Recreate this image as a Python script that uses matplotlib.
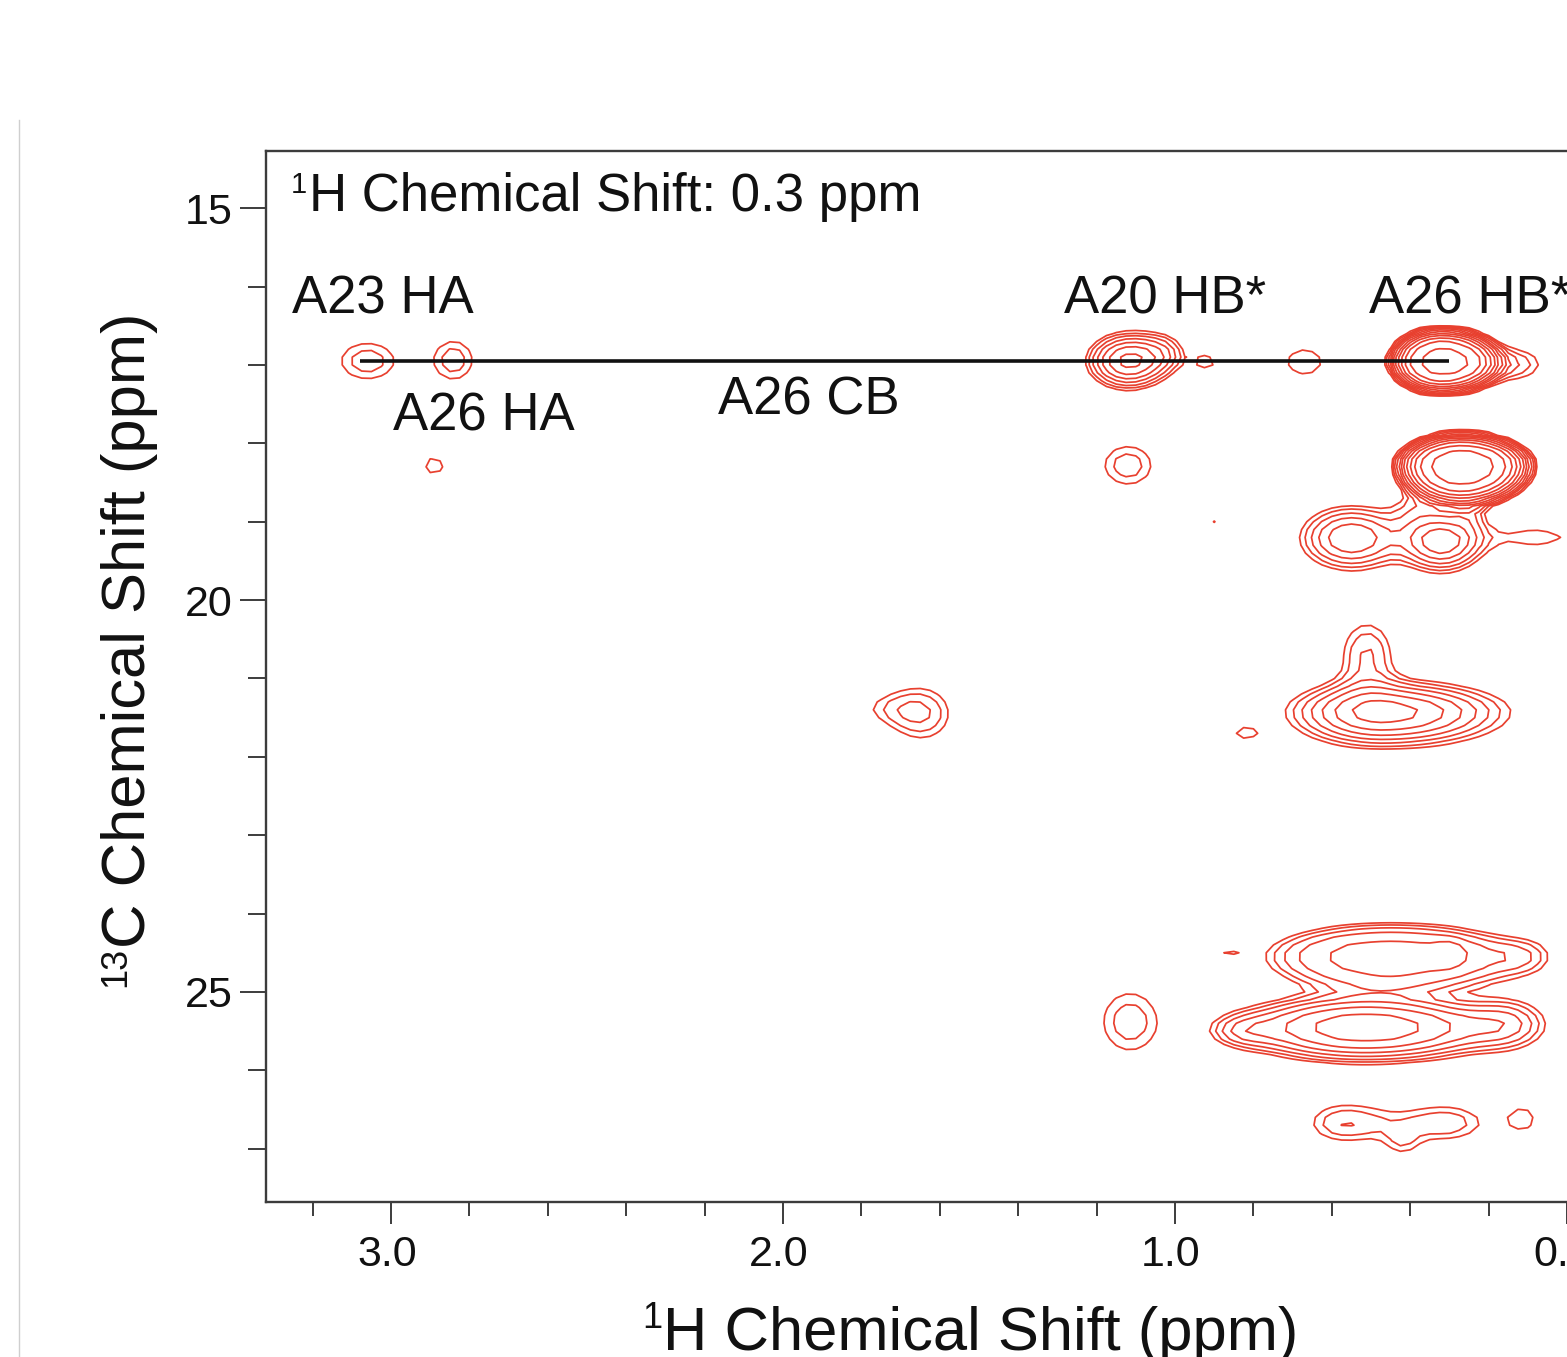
import numpy as np
import matplotlib
matplotlib.use("Agg")
import matplotlib.pyplot as plt
from matplotlib.lines import Line2D
from matplotlib.transforms import ScaledTranslation

plt.rcParams["font.family"] = ["Liberation Sans", "DejaVu Sans"]

# peak list (ppm, relative intensity)
peak_h = [3.06, 2.84, 1.12, 1.026, 0.92, 0.67, 0.32, 0.15, 0.27, 1.12, 2.89, 0.90,
          0.55, 0.32, 0.08, 0.375, 0.247, 0.47, 0.51, 0.82, 1.645, 1.74,
          0.515, 0.45, 0.30, 0.10, 0.15, 0.83, 1.115, 0.86,
          0.566, 0.31, 0.42, 0.11]
peak_c = [16.95, 16.94, 16.95, 16.84, 16.96, 16.96, 16.96, 16.99, 18.28, 18.28, 18.29, 19.00,
          19.21, 19.25, 19.20, 18.85, 18.90, 21.43, 20.70, 21.70, 21.45, 21.38,
          25.45, 24.55, 24.50, 24.55, 25.40, 25.50, 25.38, 24.50,
          26.67, 26.67, 26.95, 26.62]
peak_int = [1.55, 1.55, 5.2, 1.4, 1.2, 1.2, 19.0, 1.8, 20.0, 1.55, 1.2, 1.08,
            3.7, 4.5, 1.2, 1.4, 1.0, 5.5, 1.75, 1.2, 1.7, 0.8,
            5.6, 3.05, 0.75, 1.0, 1.7, 1.3, 1.55, 1.06,
            1.7, 1.62, 0.9, 1.1]
# widths towards high ppm (left) / low ppm (right) in 1H, low ppm (up) / high ppm (down) in 13C
width_left = [0.10, 0.07, 0.084, 0.07, 0.048, 0.10, 0.107, 0.10, 0.133, 0.088, 0.054, 0.014,
              0.115, 0.09, 0.15, 0.07, 0.04, 0.19, 0.078, 0.05, 0.09, 0.12,
              0.28, 0.31, 0.035, 0.08, 0.10, 0.08, 0.10, 0.04,
              0.11, 0.13, 0.05, 0.07]
width_right = [0.10, 0.07, 0.084, 0.05, 0.048, 0.10, 0.125, 0.10, 0.146, 0.088, 0.054, 0.014,
               0.115, 0.09, 0.15, 0.12, 0.04, 0.25, 0.078, 0.05, 0.09, 0.08,
               0.30, 0.33, 0.035, 0.08, 0.10, 0.08, 0.10, 0.04,
               0.13, 0.115, 0.05, 0.07]
width_up = [0.34, 0.36, 0.29, 0.25, 0.18, 0.36, 0.35, 0.25, 0.33, 0.36, 0.24, 0.07,
            0.36, 0.26, 0.22, 0.25, 0.20, 0.32, 0.51, 0.15, 0.41, 0.25,
            0.36, 0.42, 0.15, 0.28, 0.33, 0.20, 0.54, 0.05,
            0.30, 0.28, 0.20, 0.33]
width_down = [0.34, 0.36, 0.29, 0.25, 0.18, 0.36, 0.33, 0.25, 0.42, 0.36, 0.24, 0.07,
              0.36, 0.33, 0.22, 0.25, 0.20, 0.36, 0.51, 0.15, 0.41, 0.25,
              0.38, 0.46, 0.15, 0.28, 0.33, 0.20, 0.54, 0.05,
              0.30, 0.28, 0.20, 0.33]
peak_shape = [2, 2, 2, 2, 2, 2, 4, 2, 4, 2, 2, 2,
              2, 2, 2, 2, 2, 2, 2, 2, 2, 2,
              2.5, 4, 2, 2, 2, 2, 2, 2,
              2, 2, 2, 2]

contour_ratio = 1.3
contour_count = 15

# slice line through the 0.3 ppm strip
slice_h = [3.08, 0.30]
slice_c = [16.95, 16.95]

y_major = [15, 20, 25]
y_minor = [16, 17, 18, 19, 21, 22, 23, 24, 26, 27]
x_major = [3.0, 2.0, 1.0, 0.0]
x_minor = [3.2, 2.8, 2.6, 2.4, 2.2, 1.8, 1.6, 1.4, 1.2, 0.8, 0.6, 0.4, 0.2]

labels = ["A23 HA", "A26 HA", "A26 CB", "A20 HB*", "A26 HB*"]
label_h = [3.253, 2.995, 2.166, 1.283, 0.505]
label_c = [16.34, 17.84, 17.63, 16.34, 16.34]

W, H = 1567, 1357
RED = "#e8402f"
DARK = "#3c3c3c"
INK = "#111111"


def spectrum(xx, yy):
    z = np.zeros_like(xx)
    for i in range(len(peak_h)):
        dx = xx - peak_h[i]
        dy = yy - peak_c[i]
        sx = np.where(dx > 0, width_left[i], width_right[i])
        sy = np.where(dy < 0, width_up[i], width_down[i])
        r2 = (dx / sx) ** 2 + (dy / sy) ** 2
        z += peak_int[i] * np.exp(-(r2 ** (peak_shape[i] / 2)))
    return z


fig = plt.figure(figsize=(W / 100, H / 100), dpi=100)
ax = fig.add_axes([266 / W, 1 - 1202 / H, (W - 266) / W, (1202 - 151) / H])
ax.set_xlim(3.319, 0.0)
ax.set_ylim(27.68, 14.27)

# coarse grid, the source contours are visibly polygonal
xs = np.arange(-0.05, 3.35, 0.025)
ys = np.arange(14.3, 27.7, 0.1)
xx, yy = np.meshgrid(xs, ys)
levels = contour_ratio ** np.arange(contour_count)
ax.contour(xx, yy, spectrum(xx, yy), levels=levels, colors=RED, linewidths=1.25, linestyles="solid")

ax.plot(slice_h, slice_c, color=INK, lw=2.6, solid_capstyle="butt")

for name, h, c in zip(labels, label_h, label_c):
    ax.text(h, c, name, fontsize=38, color=INK, ha="left", va="baseline")
ax.text(3.209, 15.03, "H Chemical Shift: 0.3 ppm", fontsize=38, color=INK, ha="left", va="baseline")
ax.text(3.255, 14.80, "1", fontsize=21, color=INK, ha="left", va="baseline")

ax.spines["right"].set_visible(False)
for side in ["left", "top", "bottom"]:
    ax.spines[side].set_linewidth(1.7)
    ax.spines[side].set_color(DARK)

ax.set_xticks(x_major)
ax.set_xticklabels(["3.0", "2.0", "1.0", "0.0"])
ax.set_xticks(x_minor, minor=True)
ax.set_yticks(y_major)
ax.set_yticks(y_minor, minor=True)
ax.tick_params(axis="both", which="major", labelsize=31, width=1.4, color=DARK, labelcolor=INK)
ax.tick_params(axis="x", which="major", length=16, pad=8)
ax.tick_params(axis="y", which="major", length=19, pad=5)
ax.tick_params(axis="x", which="minor", length=10, width=1.4, color=DARK)
ax.tick_params(axis="y", which="minor", length=13, width=1.4, color=DARK)
for lab in ax.get_xticklabels():
    lab.set_transform(lab.get_transform() + ScaledTranslation(-4 / 100, 0, fig.dpi_scale_trans))

fig.text(663 / W, 1 - 1350 / H, "H Chemical Shift (ppm)", fontsize=44.3, color=INK, ha="left", va="baseline")
fig.text(642 / W, 1 - 1328 / H, "1", fontsize=26, color=INK, ha="left", va="baseline")
fig.text(145 / W, 1 - 948 / H, "C Chemical Shift (ppm)", fontsize=44.3, color=INK, rotation=90,
         rotation_mode="anchor", ha="left", va="baseline")
fig.text(125 / W, 1 - 987 / H, "13", fontsize=26, color=INK, rotation=90,
         rotation_mode="anchor", ha="left", va="baseline")

# page edge left of the panel
fig.add_artist(Line2D([19 / W, 19 / W], [0, 1 - 120 / H], color="#cfcfcf", lw=1.0))

fig.savefig("out.png", dpi=100)
